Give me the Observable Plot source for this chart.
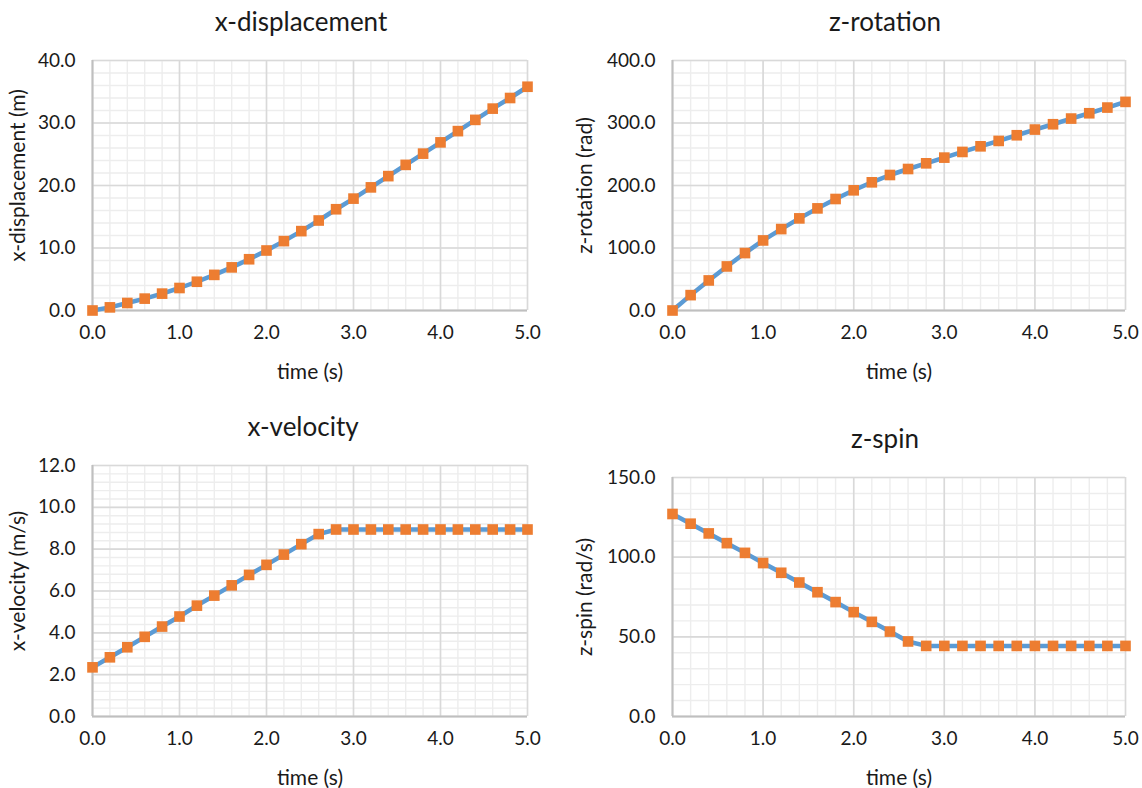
<!DOCTYPE html>
<html>
<head>
<meta charset="utf-8">
<script src="https://cdn.jsdelivr.net/npm/d3@7"></script>
<script src="https://cdn.jsdelivr.net/npm/@observablehq/plot@0.6"></script>
<style>
  html, body { margin: 0; padding: 0; background: #fff; }
  #wrap { position: relative; width: 1142px; height: 788px; background: #fff; overflow: hidden; }
  #wrap > div { position: absolute; }
  svg { overflow: visible; }
</style>
</head>
<body>
<div id="wrap"></div>
<script>
// ---- data ----
const time = [0.0, 0.2, 0.4, 0.6, 0.8, 1.0, 1.2, 1.4, 1.6, 1.8, 2.0, 2.2, 2.4, 2.6, 2.8, 3.0, 3.2, 3.4, 3.6, 3.8, 4.0, 4.2, 4.4, 4.6, 4.8, 5.0];
const xDisplacement = [0.0, 0.5, 1.2, 1.9, 2.7, 3.6, 4.6, 5.7, 6.9, 8.2, 9.6, 11.1, 12.7, 14.4, 16.2, 17.9, 19.7, 21.5, 23.3, 25.1, 26.9, 28.7, 30.5, 32.3, 34.0, 35.8];
const zRotation = [0.0, 24.6, 48.1, 70.5, 91.9, 112.1, 130.3, 147.4, 163.4, 178.4, 192.3, 205.1, 216.8, 226.4, 235.5, 244.6, 253.7, 262.7, 271.3, 280.4, 289.5, 298.0, 307.1, 315.6, 324.7, 333.8];
const xVelocity = [2.35, 2.83, 3.31, 3.81, 4.30, 4.78, 5.30, 5.78, 6.27, 6.77, 7.25, 7.74, 8.24, 8.72, 8.94, 8.94, 8.94, 8.94, 8.94, 8.94, 8.94, 8.94, 8.94, 8.94, 8.94, 8.94];
const zSpin = [127.1, 121.0, 114.9, 108.8, 102.7, 96.3, 90.2, 84.1, 78.0, 71.8, 65.5, 59.4, 53.3, 47.1, 44.3, 44.3, 44.3, 44.3, 44.3, 44.3, 44.3, 44.3, 44.3, 44.3, 44.3, 44.3];

const titles = ["x-displacement", "z-rotation", "x-velocity", "z-spin"];
const yLabels = ["x-displacement (m)", "z-rotation (rad)", "x-velocity (m/s)", "z-spin (rad/s)"];
const xLabel = "time (s)";
const xMajorTicks = [0, 1, 2, 3, 4, 5];
const yMajorTicksDisp = [0, 10, 20, 30, 40];
const yMajorTicksRot = [0, 100, 200, 300, 400];
const yMajorTicksVel = [0, 2, 4, 6, 8, 10, 12];
const yMajorTicksSpin = [0, 50, 100, 150];

// ---- layout ----
const FONT = "Lato, 'Open Sans', sans-serif";
const TEXT = "#1a1a1a";
const cfgs = [
  {left: 0,   top: 0,   values: xDisplacement, yTicks: yMajorTicksDisp, minorStep: 2,   mL: 92,  mR: 44, mT: 60, mB: 84, titleDx: -9,  yLabDx: -74,  yLabDy: -10},
  {left: 571, top: 0,   values: zRotation,     yTicks: yMajorTicksRot,  minorStep: 20,  mL: 101, mR: 17, mT: 60, mB: 84, titleDx: -14, yLabDx: -87,  yLabDy: 0},
  {left: 0,   top: 394, values: xVelocity,     yTicks: yMajorTicksVel,  minorStep: 0.4, mL: 92,  mR: 44, mT: 71, mB: 72, titleDx: -7,  yLabDx: -74,  yLabDy: -10},
  {left: 571, top: 394, values: zSpin,         yTicks: yMajorTicksSpin, minorStep: 10,  mL: 101, mR: 17, mT: 83, mB: 72, titleDx: -14, yLabDx: -87,  yLabDy: 0}
];

const wrap = document.getElementById("wrap");
const fmt = d3.format(".1f");

cfgs.forEach((c, k) => {
  const data = time.map((t, i) => ({t, v: c.values[i]}));
  const yMax = c.yTicks[c.yTicks.length - 1];
  const xMinor = d3.range(0, 5.0001, 0.2);
  const yMinor = d3.range(0, yMax + 1e-9, c.minorStep);
  const chart = Plot.plot({
    width: 571,
    height: 394,
    marginLeft: c.mL,
    marginRight: c.mR,
    marginTop: c.mT,
    marginBottom: c.mB,
    style: {fontFamily: FONT, fontSize: "19px", color: TEXT, background: "transparent", overflow: "visible"},
    x: {domain: [0, 5]},
    y: {domain: [0, yMax]},
    marks: [
      Plot.ruleX(xMinor, {stroke: "#ededed", strokeWidth: 1.4}),
      Plot.ruleY(yMinor, {stroke: "#ededed", strokeWidth: 1.4}),
      Plot.ruleX(xMajorTicks, {stroke: "#d9d9d9", strokeWidth: 1.6}),
      Plot.ruleY(c.yTicks, {stroke: "#d9d9d9", strokeWidth: 1.6}),
      Plot.ruleX([0], {stroke: "#bfbfbf", strokeWidth: 2}),
      Plot.ruleY([0], {stroke: "#bfbfbf", strokeWidth: 2}),
      Plot.axisX({ticks: xMajorTicks, tickFormat: fmt, tickSize: 0, tickPadding: 15, label: null, fontSize: 19}),
      Plot.axisY({ticks: c.yTicks, tickFormat: fmt, tickSize: 0, tickPadding: 17, label: null, fontSize: 19}),
      Plot.line(data, {x: "t", y: "v", stroke: "#5B9BD5", strokeWidth: 4.5}),
      Plot.dot(data, {x: "t", y: "v", symbol: "square", r: 6, fill: "#ED7D31", stroke: "none"}),
      Plot.text([titles[k]], {text: d => d, frameAnchor: "top", lineAnchor: "middle", textAnchor: "middle", dy: -38, dx: c.titleDx, fontSize: 26, fill: TEXT}),
      Plot.text([xLabel], {text: d => d, frameAnchor: "bottom", lineAnchor: "middle", textAnchor: "middle", dy: 62, fontSize: 21, fill: TEXT}),
      Plot.text([yLabels[k]], {text: d => d, frameAnchor: "left", lineAnchor: "middle", textAnchor: "middle", dx: c.yLabDx, dy: c.yLabDy, rotate: -90, fontSize: 21, fill: TEXT})
    ]
  });
  const holder = document.createElement("div");
  holder.style.left = c.left + "px";
  holder.style.top = c.top + "px";
  holder.appendChild(chart);
  wrap.appendChild(holder);
});
</script>
</body>
</html>
